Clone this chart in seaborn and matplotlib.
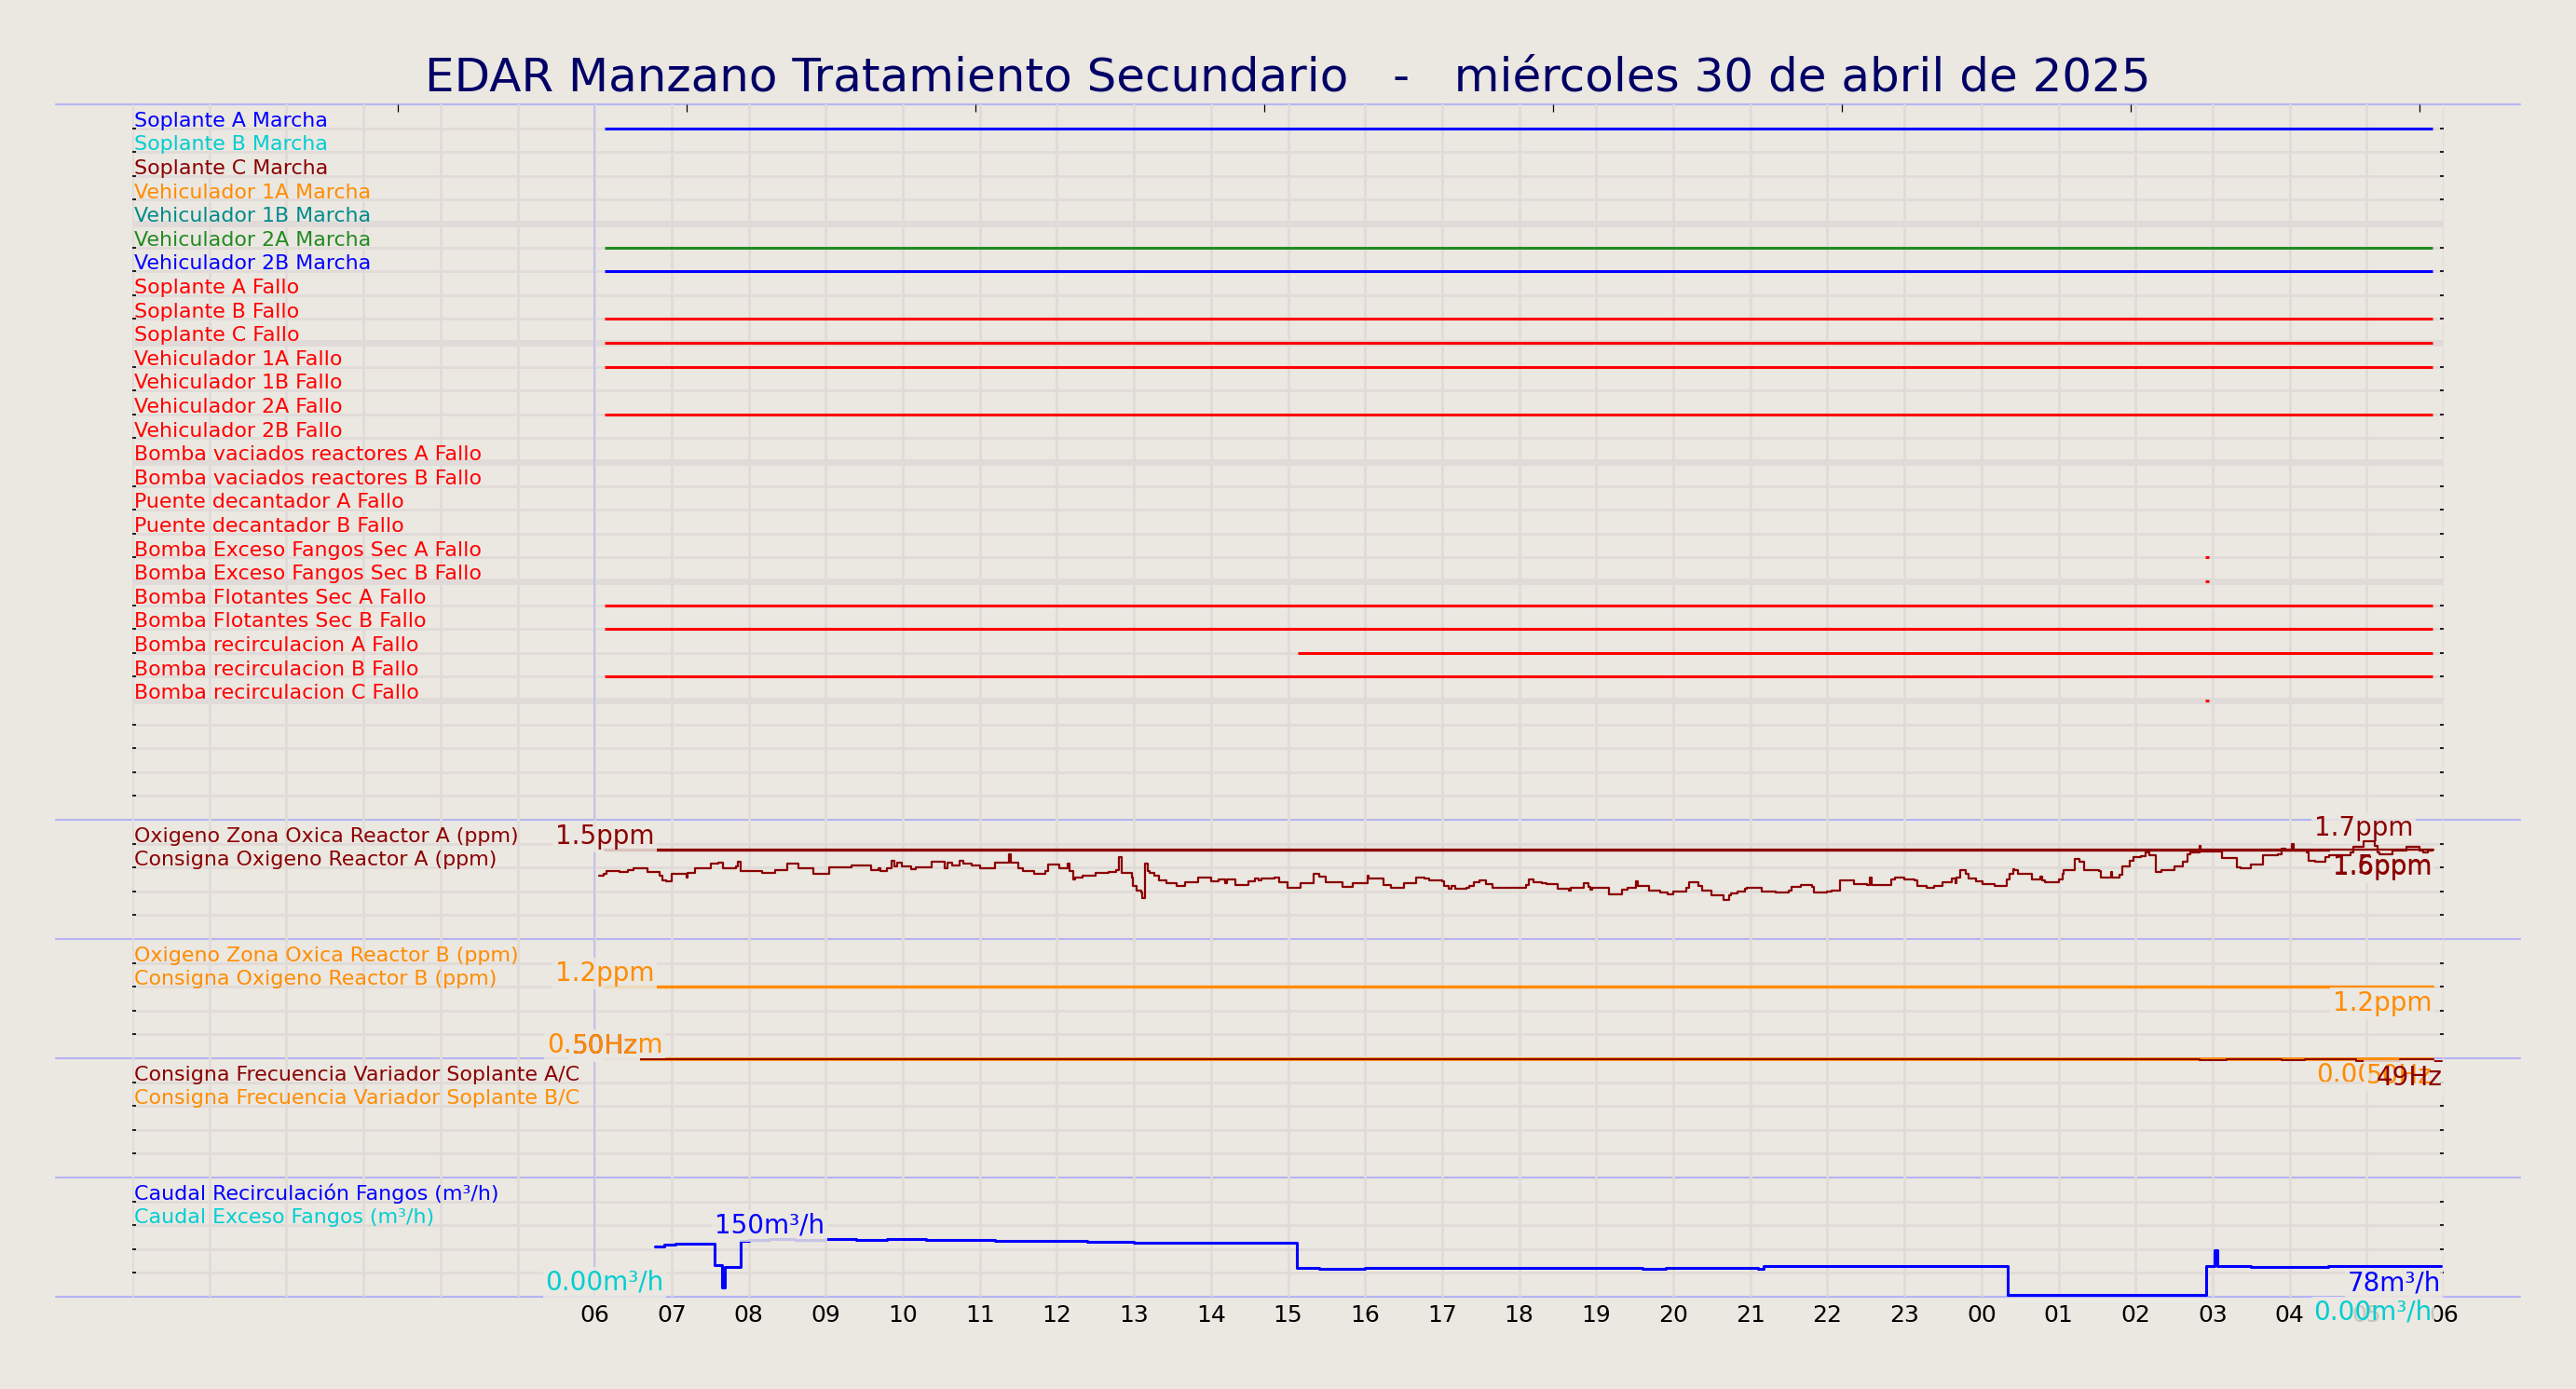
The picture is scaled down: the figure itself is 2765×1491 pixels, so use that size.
import numpy as np
import pandas as pd
import matplotlib
matplotlib.use('Agg')
import matplotlib.pyplot as plt
from matplotlib.lines import Line2D
from matplotlib.transforms import offset_copy
import seaborn as sns

# ---------------- datos ----------------
titulo = "EDAR Manzano Tratamiento Secundario   -   miércoles 30 de abril de 2025"

# horas contadas desde las 00:00 del 30/04 (30 = 06:00 del 01/05)
inicio, fin = 6.13, 29.85

senales = ['Soplante A Marcha', 'Soplante B Marcha', 'Soplante C Marcha',
           'Vehiculador 1A Marcha', 'Vehiculador 1B Marcha', 'Vehiculador 2A Marcha',
           'Vehiculador 2B Marcha', 'Soplante A Fallo', 'Soplante B Fallo',
           'Soplante C Fallo', 'Vehiculador 1A Fallo', 'Vehiculador 1B Fallo',
           'Vehiculador 2A Fallo', 'Vehiculador 2B Fallo',
           'Bomba vaciados reactores A Fallo', 'Bomba vaciados reactores B Fallo',
           'Puente decantador A Fallo', 'Puente decantador B Fallo',
           'Bomba Exceso Fangos Sec A Fallo', 'Bomba Exceso Fangos Sec B Fallo',
           'Bomba Flotantes Sec A Fallo', 'Bomba Flotantes Sec B Fallo',
           'Bomba recirculacion A Fallo', 'Bomba recirculacion B Fallo',
           'Bomba recirculacion C Fallo']
colores_senal = ['blue', 'darkturquoise', 'darkred', 'darkorange', 'darkcyan',
                 'forestgreen', 'blue'] + ['red'] * 18
# tramos activos de cada señal (hora inicio, hora fin)
tramos = [
    [(inicio, fin)], [], [], [], [],
    [(inicio, fin)], [(inicio, fin)],
    [], [(inicio, fin)], [(inicio, fin)], [(inicio, fin)], [], [(inicio, fin)], [],
    [], [], [], [],
    [(26.90, 26.95)], [(26.90, 26.95)],
    [(inicio, fin)], [(inicio, fin)], [(15.13, fin)], [(inicio, fin)],
    [(26.90, 26.95)],
]

# Oxigeno zona oxica reactor A (ppm), escalonado
ox_a_horas = [6.06, 6.12, 6.16, 6.32, 6.43, 6.51, 6.69, 6.84, 6.88, 6.93, 7.00, 7.19, 7.21,
              7.30, 7.51, 7.61, 7.67, 7.84, 7.86, 7.90, 8.18, 8.34, 8.50, 8.64, 8.84, 9.05,
              9.33, 9.59, 9.69, 9.71, 9.79, 9.85, 9.89, 9.93, 9.99, 10.11, 10.17, 10.38,
              10.54, 10.58, 10.64, 10.74, 10.78, 10.90, 11.00, 11.20, 11.38, 11.40, 11.50,
              11.56, 11.70, 11.85, 11.89, 12.03, 12.14, 12.17, 12.21, 12.24, 12.33, 12.50,
              12.67, 12.77, 12.81, 12.84, 12.97, 12.99, 13.03, 13.09, 13.11, 13.14, 13.18,
              13.21, 13.27, 13.33, 13.42, 13.56, 13.66, 13.83, 14.00, 14.10, 14.18, 14.21,
              14.26, 14.32, 14.49, 14.57, 14.62, 14.65, 14.83, 14.89, 14.99, 15.16, 15.33,
              15.41, 15.49, 15.71, 15.84, 16.03, 16.05, 16.24, 16.34, 16.50, 16.66, 16.77,
              16.83, 17.00, 17.03, 17.09, 17.12, 17.17, 17.31, 17.35, 17.41, 17.49, 17.57,
              17.65, 18.09, 18.13, 18.19, 18.30, 18.36, 18.50, 18.64, 18.67, 18.84, 18.90,
              18.92, 18.95, 19.16, 19.33, 19.41, 19.52, 19.54, 19.68, 19.83, 19.93, 20.00,
              20.17, 20.20, 20.33, 20.37, 20.49, 20.65, 20.73, 20.75, 20.83, 20.93, 20.95,
              21.15, 21.33, 21.50, 21.53, 21.66, 21.80, 21.83, 21.99, 22.06, 22.16, 22.35,
              22.51, 22.55, 22.57, 22.83, 22.88, 23.00, 23.13, 23.17, 23.29, 23.39, 23.49,
              23.61, 23.66, 23.68, 23.72, 23.80, 23.83, 23.93, 24.01, 24.17, 24.33, 24.37,
              24.41, 24.43, 24.48, 24.66, 24.77, 24.79, 24.82, 25.00, 25.05, 25.07, 25.21,
              25.27, 25.33, 25.52, 25.55, 25.68, 25.69, 25.79, 25.83, 25.93, 25.97, 26.07,
              26.13, 26.18, 26.26, 26.34, 26.50, 26.62, 26.68, 26.71, 26.83, 26.85, 27.12,
              27.32, 27.36, 27.50, 27.66, 27.85, 27.89, 27.95, 28.03, 28.05, 28.22, 28.25,
              28.33, 28.47, 28.51, 28.79, 28.83, 28.96, 29.10, 29.14, 29.16, 29.34, 29.52,
              29.68, 29.74, 29.80, 29.85]
ox_a_ppm = [1.29, 1.31, 1.35, 1.33, 1.36, 1.38, 1.33, 1.29, 1.23, 1.22, 1.31, 1.27, 1.32,
            1.38, 1.43, 1.44, 1.38, 1.40, 1.46, 1.35, 1.32, 1.36, 1.43, 1.38, 1.31, 1.39,
            1.41, 1.36, 1.38, 1.34, 1.38, 1.47, 1.40, 1.44, 1.40, 1.37, 1.39, 1.46,
            1.38, 1.44, 1.41, 1.47, 1.43, 1.41, 1.38, 1.44, 1.54, 1.44, 1.38,
            1.34, 1.31, 1.34, 1.42, 1.38, 1.43, 1.34, 1.25, 1.27, 1.29, 1.32,
            1.33, 1.36, 1.51, 1.32, 1.27, 1.17, 1.11, 1.09, 1.02, 1.43, 1.35,
            1.32, 1.29, 1.23, 1.20, 1.17, 1.21, 1.27, 1.22, 1.25, 1.20, 1.24,
            1.25, 1.18, 1.22, 1.26, 1.23, 1.26, 1.27, 1.21, 1.15, 1.20, 1.31,
            1.28, 1.21, 1.16, 1.20, 1.29, 1.26, 1.18, 1.15, 1.20, 1.27, 1.26,
            1.23, 1.22, 1.17, 1.13, 1.17, 1.13, 1.15, 1.17, 1.21, 1.23, 1.19,
            1.14, 1.18, 1.24, 1.21, 1.20, 1.19, 1.13, 1.11, 1.14, 1.20, 1.16,
            1.12, 1.15, 1.07, 1.12, 1.14, 1.22, 1.17, 1.11, 1.09, 1.07, 1.10,
            1.15, 1.21, 1.17, 1.11, 1.05, 1.00, 1.06, 1.08, 1.10, 1.13, 1.15,
            1.10, 1.09, 1.11, 1.16, 1.18, 1.16, 1.09, 1.10, 1.11, 1.23, 1.19,
            1.18, 1.27, 1.18, 1.25, 1.27, 1.25, 1.23, 1.17, 1.14, 1.17, 1.21,
            1.26, 1.20, 1.27, 1.36, 1.31, 1.26, 1.22, 1.19, 1.17, 1.25, 1.31,
            1.37, 1.36, 1.31, 1.25, 1.28, 1.23, 1.21, 1.25, 1.31, 1.36, 1.49,
            1.46, 1.36, 1.35, 1.27, 1.33, 1.27, 1.30, 1.40, 1.47, 1.51, 1.52,
            1.57, 1.53, 1.33, 1.36, 1.40, 1.46, 1.55, 1.57, 1.64, 1.58, 1.50,
            1.39, 1.38, 1.42, 1.53, 1.55, 1.61, 1.59, 1.67, 1.59, 1.57, 1.47,
            1.46, 1.51, 1.53, 1.57, 1.63, 1.70, 1.65, 1.57, 1.54, 1.59, 1.63,
            1.59, 1.57, 1.59, 1.59]
consigna_a = 1.5
consigna_b = 1.2
ox_b_ppm = 0.0

# consignas de frecuencia (Hz)
frec_ac_horas = [inicio, 26.83, 27.18, 27.90, 28.20, 28.86, 29.43, 29.87, 29.98]
frec_ac_hz = [50, 49.5, 50, 49.6, 50, 49.2, 50, 49.2, 49.2]
frec_bc_hz = 50

# caudal recirculacion fangos (m3/h), escalonado
caudal_horas = [6.78, 6.90, 7.05, 7.30, 7.56, 7.66, 7.69, 7.89, 8.00, 8.27, 8.60, 9.00,
                9.40, 9.80, 10.30, 10.80, 11.20, 11.60, 12.00, 12.40, 13.00, 13.60, 14.20,
                14.70, 15.11, 15.40, 16.00, 16.80, 17.30, 18.00, 19.00, 19.60, 19.90, 20.50,
                21.10, 21.17, 21.80, 22.40, 23.00, 23.60, 24.34, 26.92, 27.03, 27.06, 27.50,
                28.00, 28.50, 29.00, 29.50, 29.96]
caudal_m3h = [131, 137, 139, 140, 81, 22, 76, 148, 150, 152, 150, 151,
              150, 151, 150, 149, 148, 147, 146, 144, 142, 143, 142,
              141, 73, 72, 73, 73, 74, 73, 73, 72, 74, 73,
              71, 78, 79, 80, 78, 79, 0, 78, 122, 79, 77,
              77, 78, 78, 78, 78]
exceso_m3h = 0.0

horas = np.arange(0, 31)
etq_horas = ['' if h < 6 else f'{h % 24:02d}' for h in horas]
marcas_sup = [3.45, 7.20, 10.94, 14.69, 18.44, 22.19, 25.94, 29.69]

# ---------------- estilo ----------------
fondo = '#ebe7e1'
rejilla = '#e0dbd8'
separador = '#b4b4f4'

sns.set_theme(style='white', rc={'figure.facecolor': fondo, 'axes.facecolor': 'none'})
plt.rcParams['font.family'] = ['DejaVu Sans']

W, H = 2765, 1491
izq, der = 142, 2623
bordes = [112, 880, 1008, 1136, 1264, 1392]

fig = plt.figure(figsize=(W / 100, H / 100), dpi=100)

for y in bordes:
    fig.add_artist(Line2D([60 / W, 2705 / W], [1 - y / H] * 2, color=separador,
                          lw=1.5, zorder=0.5))

fig.text(0.5, 1 - 98 / H, titulo, ha='center', va='baseline', fontsize=36, color='#000066')


def fmt(v, unidad):
    if v == 0:
        return f'0.00{unidad}'
    r = float(f'{v:.2g}')
    return (f'{r:.0f}' if r >= 10 else f'{r:.1f}') + unidad


def etiqueta(ax, x, y, texto, color, ha, va, trans=None):
    trans = trans or ax.transData
    if va == 'top':
        # el valor final queda por debajo de la linea, sin taparla
        trans = offset_copy(trans, fig=fig, y=-4, units='dots')
    caja = dict(boxstyle='square,pad=0.1', fc=fondo, ec='none', alpha=0.85)
    ax.text(x, y, texto, transform=trans, ha=ha, va=va, fontsize=20, color='none',
            bbox=caja, zorder=4)
    ax.text(x, y, texto, transform=trans, ha=ha, va=va, fontsize=20, color=color, zorder=5)


def nombre(ax, fila, texto, color):
    ax.text(0.02, fila, texto, transform=ax.get_xaxis_transform(), ha='left',
            va='baseline', fontsize=15.9, color=color, zorder=6)


def preparar(ax, ylim, yticks):
    ax.set_zorder(1)
    ax.set_xlim(0, 30)
    ax.set_ylim(*ylim)
    ax.set_xticks(horas)
    ax.set_yticks(yticks)
    ax.grid(True, color=rejilla, lw=2)
    ax.set_axisbelow(True)
    for s in ax.spines.values():
        s.set_visible(False)
    ax.axvline(6, color='#bcbcf0', lw=1.1, zorder=0.9)


axs = []
for i in range(5):
    top, bot = bordes[i], bordes[i + 1]
    axs.append(fig.add_axes([izq / W, 1 - bot / H, (der - izq) / W, (bot - top) / H]))
ax1, ax2, ax3, ax4, ax5 = axs

# ---- panel 1: señales digitales ----
preparar(ax1, (29, -1), range(29))
for k in (4, 9, 14, 19, 24):
    ax1.axhline(k, color=rejilla, lw=5, zorder=0.8)
for k, (txt, col) in enumerate(zip(senales, colores_senal)):
    for a, b in tramos[k]:
        ax1.hlines(k, a, b, color=col, lw=2.2, zorder=2)
    ax1.text(0.02, k - 0.07, txt, ha='left', va='baseline', fontsize=15.9, color=col, zorder=6)
sec = ax1.secondary_xaxis('top')
sec.set_xticks(marcas_sup)
sec.set_xticklabels([])
sec.tick_params(direction='in', length=6, width=0.9, colors='black')
for s in sec.spines.values():
    s.set_visible(False)

# ---- panel 2: oxigeno reactor A ----
lim = (0, 2.0)
preparar(ax2, lim, np.linspace(*lim, 6)[1:-1])
ax2t = ax2.twinx()
ax2t.set_zorder(1)
ax2t.set_ylim(0.533, 1.956)
ax2t.set_yticks([])
ax2t.grid(False)
for s in ax2t.spines.values():
    s.set_visible(False)
sns.lineplot(x=[inicio, fin], y=[consigna_a, consigna_a], ax=ax2, color='darkred', lw=2.4,
             estimator=None, sort=False, legend=False)
sns.lineplot(x=ox_a_horas, y=ox_a_ppm, ax=ax2t, color='darkred', lw=1.6, drawstyle='steps-post',
             estimator=None, sort=False, legend=False)
nombre(ax2, 0.815, 'Oxigeno Zona Oxica Reactor A (ppm)', 'darkred')
nombre(ax2, 0.615, 'Consigna Oxigeno Reactor A (ppm)', 'darkred')
etiqueta(ax2, inicio, consigna_a, fmt(consigna_a, 'ppm'), 'darkred', 'center', 'bottom')
etiqueta(ax2, fin, consigna_a, fmt(consigna_a, 'ppm'), 'darkred', 'right', 'top')
etiqueta(ax2, ox_a_horas[-1], ox_a_ppm[-1], fmt(ox_a_ppm[-1], 'ppm'), 'darkred', 'right', 'top',
         trans=ax2t.transData)
imax = int(np.argmax(ox_a_ppm))
etiqueta(ax2, ox_a_horas[imax], ox_a_ppm[imax], fmt(ox_a_ppm[imax], 'ppm'), 'darkred',
         'center', 'bottom', trans=ax2t.transData)

# ---- panel 3: oxigeno reactor B ----
preparar(ax3, lim, np.linspace(*lim, 6)[1:-1])
sns.lineplot(x=[inicio, fin], y=[consigna_b, consigna_b], ax=ax3, color='darkorange', lw=2.4,
             estimator=None, sort=False, legend=False)
sns.lineplot(x=[inicio, fin], y=[ox_b_ppm, ox_b_ppm], ax=ax3, color='darkorange', lw=2,
             estimator=None, sort=False, legend=False, clip_on=False)
nombre(ax3, 0.815, 'Oxigeno Zona Oxica Reactor B (ppm)', 'darkorange')
nombre(ax3, 0.615, 'Consigna Oxigeno Reactor B (ppm)', 'darkorange')
etiqueta(ax3, inicio, consigna_b, fmt(consigna_b, 'ppm'), 'darkorange', 'center', 'bottom')
etiqueta(ax3, fin, consigna_b, fmt(consigna_b, 'ppm'), 'darkorange', 'right', 'top')
etiqueta(ax3, inicio, ox_b_ppm, fmt(ox_b_ppm, 'ppm'), 'darkorange', 'center', 'bottom')
etiqueta(ax3, fin, ox_b_ppm, fmt(ox_b_ppm, 'ppm'), 'darkorange', 'right', 'top')

# ---- panel 4: consignas de frecuencia ----
lim = (0, 50.3)
preparar(ax4, lim, np.linspace(*lim, 6)[1:-1])
sns.lineplot(x=[inicio, fin], y=[frec_bc_hz, frec_bc_hz], ax=ax4, color='darkorange', lw=2.6,
             estimator=None, sort=False, legend=False)
sns.lineplot(x=frec_ac_horas, y=frec_ac_hz, ax=ax4, color='darkred', lw=1.4, drawstyle='steps-post',
             estimator=None, sort=False, legend=False)
nombre(ax4, 0.815, 'Consigna Frecuencia Variador Soplante A/C', 'darkred')
nombre(ax4, 0.615, 'Consigna Frecuencia Variador Soplante B/C', 'darkorange')
etiqueta(ax4, inicio, frec_ac_hz[0], fmt(frec_ac_hz[0], 'Hz'), 'darkred', 'center', 'bottom')
etiqueta(ax4, inicio, frec_bc_hz, fmt(frec_bc_hz, 'Hz'), 'darkorange', 'center', 'bottom')
etiqueta(ax4, fin, frec_bc_hz, fmt(frec_bc_hz, 'Hz'), 'darkorange', 'right', 'top')
etiqueta(ax4, frec_ac_horas[-1], frec_ac_hz[-1], fmt(frec_ac_hz[-1], 'Hz'), 'darkred', 'right', 'top')

# ---- panel 5: caudales ----
lim = (-4.3, 318)
preparar(ax5, lim, np.linspace(*lim, 6)[1:-1])
sns.lineplot(x=caudal_horas, y=caudal_m3h, ax=ax5, color='blue', lw=2.2, drawstyle='steps-post',
             estimator=None, sort=False, legend=False)
nombre(ax5, 0.815, 'Caudal Recirculación Fangos (m³/h)', 'blue')
nombre(ax5, 0.615, 'Caudal Exceso Fangos (m³/h)', 'darkturquoise')
imax = int(np.argmax(caudal_m3h))
etiqueta(ax5, caudal_horas[imax], caudal_m3h[imax], fmt(caudal_m3h[imax], 'm³/h'), 'blue',
         'center', 'bottom')
etiqueta(ax5, caudal_horas[-1], caudal_m3h[-1], fmt(caudal_m3h[-1], 'm³/h'), 'blue', 'right', 'top')
etiqueta(ax5, inicio, exceso_m3h, fmt(exceso_m3h, 'm³/h'), 'darkturquoise', 'center', 'bottom')
etiqueta(ax5, fin, exceso_m3h, fmt(exceso_m3h, 'm³/h'), 'darkturquoise', 'right', 'top')

for ax in axs:
    ax.set_xlabel('')
    ax.set_ylabel('')
    ax.tick_params(axis='y', direction='in', length=3, width=1.2, colors='black',
                   left=True, right=True, labelleft=False, labelright=False)
    ax.tick_params(axis='x', length=0, labelbottom=False)
ax5.set_xticklabels(etq_horas)
ax5.tick_params(axis='x', labelbottom=True, labelsize=18, pad=6, labelcolor='black')

fig.savefig('out.png', dpi=100, facecolor=fondo)
